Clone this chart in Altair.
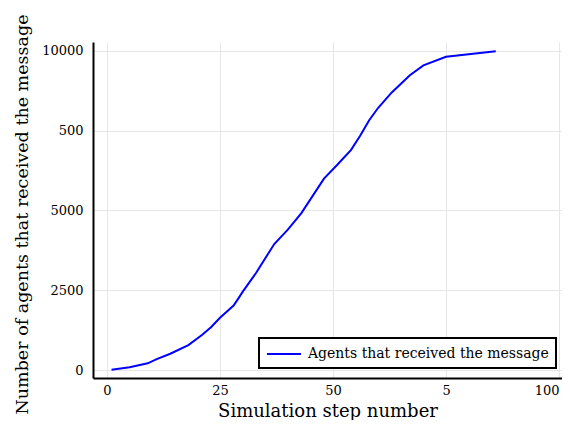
import altair as alt
import pandas as pd

steps = [1, 5, 9, 11, 14, 18, 21, 23, 25, 28, 29, 30, 32, 33, 37, 40, 43, 48, 51, 54, 56, 58,
         60, 63, 67, 70, 75, 80, 86]
agents = [10, 90, 210, 340, 510, 780, 1100, 1340, 1640, 2020, 2230, 2450, 2850, 3050, 3950,
          4400, 4920, 6000, 6440, 6900, 7340, 7830, 8220, 8700, 9240, 9550, 9820, 9900, 9990]
series_name = "Agents that received the message"

x_ticks = [0, 25, 50, 75, 100]
x_tick_labels = ["0", "25", "50", "5", "100"]
y_ticks = [0, 2500, 5000, 7500, 10000]
y_tick_labels = ["0", "2500", "5000", "500", "10000"]

df = pd.DataFrame({"step": steps, "agents": agents, "series": [series_name] * len(steps)})

def label_expr(vals, labels):
    parts = [f"datum.value == {v} ? '{l}'" for v, l in zip(vals, labels)]
    return " : ".join(parts) + " : ''"

FONT = "DejaVu Serif"
W, H = 469, 336

chart = alt.Chart(df).mark_line(strokeWidth=2, clip=True).encode(
    x=alt.X("step:Q",
            scale=alt.Scale(domain=[-3.1, 100.66], nice=False, zero=False),
            axis=alt.Axis(values=x_ticks, labelExpr=label_expr(x_ticks, x_tick_labels),
                          labelAlign={"condition": {"test": f"datum.value == {x_ticks[-1]}",
                                                    "value": "right"},
                                      "value": "center"},
                          title="Simulation step number", titleFontSize=18,
                          titleFontWeight="normal", titleY=38, titleBaseline="alphabetic",
                          labelFontSize=13, labelPadding=6, tickSize=0)),
    y=alt.Y("agents:Q",
            scale=alt.Scale(domain=[-250, 10281], nice=False, zero=False),
            axis=alt.Axis(values=y_ticks, labelExpr=label_expr(y_ticks, y_tick_labels),
                          title="Number of agents that received the message", titleFontSize=17.5,
                          titleFontWeight="normal", titleX=-66, titleY=H / 2 + 4,
                          titleBaseline="alphabetic", titleAngle=-90,
                          labelFontSize=13, labelPadding=10, tickSize=0)),
    color=alt.Color("series:N", scale=alt.Scale(range=["#0000ff"]),
                    legend=alt.Legend(title=None, orient="none", legendX=166, legendY=296,
                                      symbolType="M-1,0H3.25", symbolStrokeWidth=2,
                                      symbolSize=256, symbolFillColor="transparent",
                                      labelFontSize=14, labelLimit=0, padding=7, labelOffset=24,
                                      strokeColor="black", fillColor="white")),
).properties(
    width=W, height=H,
    autosize=alt.AutoSizeParams(type="none"),
    padding={"left": 85, "top": 34, "right": 0, "bottom": 42},
).configure(
    font=FONT,
).configure_view(
    stroke=None,
).configure_axis(
    domainColor="black", domainWidth=2, gridColor="#e6e6e6", gridWidth=1,
    labelColor="black", titleColor="black", labelFont=FONT, titleFont=FONT,
).configure_legend(
    strokeWidth=2, labelFont=FONT, labelColor="black",
)

chart.save("out.html", embed_options={"renderer": "svg", "actions": False})
